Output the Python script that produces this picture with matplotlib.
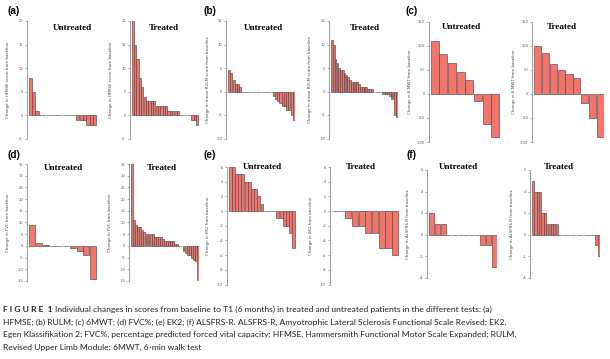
import matplotlib.pyplot as plt
import numpy as np

plt.rcParams['axes.unicode_minus'] = False

# ---------------------------------------------------------------------------
# data: individual changes from baseline, sorted (waterfall)
# ---------------------------------------------------------------------------
hfmse_untreated = [8, 5, 1, 0, 0, 0, 0, 0, 0, 0, 0, 0, 0, 0, -1, -1, -1, -2, -2, -2]
hfmse_treated = [20, 15, 12, 8, 6, 4, 3, 3, 3, 3, 2, 2, 2, 2, 2, 1, 1, 1, 1, 1,
                 0, 0, 0, 0, 0, -1, -1, -2]

rulm_untreated = [4.5, 4, 2.5, 1.5, 1.5, 1, 0, 0, 0, 0, 0, 0, 0, 0, 0, 0, 0, 0, 0, 0,
                  -1, -1.5, -2, -2.5, -3, -3, -4, -4, -5, -6]
rulm_treated = [11, 10, 7, 6, 5, 4.5, 4.5, 4, 3.5, 3, 2.5, 2, 2, 2, 2, 1.5, 1, 1, 1, 1,
                0.5, 0.5, 0.5, 0, 0, 0, 0, 0, -0.5, -0.5, -0.5, -0.5, -1, -1.5,
                -1.5, -5, -5.5]

mwt_untreated = [110, 83, 64, 45, 28, -15, -62, -89]
mwt_treated = [100, 84, 62, 49, 41, 32, -19, -50, -89]

fvc_untreated = [9, 1.1, 0.4, 0, 0, 0, -1, -2, -4, -14]
fvc_treated = [35, 11, 9, 8, 8, 7, 6, 5, 5, 5, 5, 4, 4, 4, 4, 3, 2, 2, 2, 2, 2, 1, 1,
               0, 0, -2, -3, -4, -4, -5, -6, -6.5, -16]

ek2_untreated = [6, 6, 5, 5, 5, 4, 4, 3, 3, 2, 1, 0, 0, 0, 0, -1, -1, -2, -2, -3, -5]
ek2_treated = [0, 0, -1, -2, -2, -3, -3, -5, -5, -6]

alsfrs_untreated = [2, 1, 1, 0, 0, 0, 0, 0, 0, -1, -1, -3]
alsfrs_treated = [5, 4, 4, 4, 2, 2, 1, 1, 1, 1, 1, 0, 0, 0, 0, 0, 0, 0, 0, 0, 0,
                  0, 0, 0, 0, 0, 0, -1, -2]

panel_tags = ['(a)', '(b)', '(c)', '(d)', '(e)', '(f)']
ylabels = ['Change in HFMSE score from baseline',
           'Change in mean RULM score from baseline',
           'Change in 6-MWT from baseline',
           'Change in FVC from baseline',
           'Change in EK2 from baseline',
           'Change in ALSFRS-R from baseline']
series = [(hfmse_untreated, hfmse_treated), (rulm_untreated, rulm_treated),
          (mwt_untreated, mwt_treated), (fvc_untreated, fvc_treated),
          (ek2_untreated, ek2_treated), (alsfrs_untreated, alsfrs_treated)]
yticks = [np.arange(-5, 21, 5), np.arange(-10, 16, 5), np.arange(-100, 151, 50),
          np.arange(-15, 36, 5), np.arange(-10, 7, 2), np.arange(-4, 7, 2)]
group_names = ['Untreated', 'Treated']

# ---------------------------------------------------------------------------
# layout (pixels in a 610x359 image)
# ---------------------------------------------------------------------------
W, H = 610, 359
# bar region left/right for (untreated, treated) of each panel
xspans = [((28.5, 96.5), (131.5, 198.5)), ((228, 295), (331, 398)),
          ((430.5, 499.5), (534, 604)), ((29, 96.5), (131, 199)),
          ((228.5, 295.5), (331.5, 398.5)), ((429, 497), (532, 600))]
# top (max tick) / bottom (min tick)
yspans = [(21, 139), (21, 138.5), (21.5, 142), (164, 281), (167, 284.5), (170, 277.5)]
# title centres
titles_xy = [((72, 28), (164, 28)), ((263, 28), (365, 28)), ((461, 27), (562, 27)),
             ((63, 168), (162, 168)), ((262, 167), (361, 167)), ((458, 167), (559, 167))]
tag_xy = [(7, 11), (203, 11), (405, 11), (7, 155), (203, 155), (406, 155)]

bar_face = '#F8736A'
bar_edge = '#4a4a4a'
axis_col = '#8c8c8c'

fig = plt.figure(figsize=(W / 100, H / 100), dpi=100)

for p in range(6):
    lo, hi = yticks[p][0], yticks[p][-1]
    top, bot = yspans[p]
    for g in range(2):
        x0, x1 = xspans[p][g]
        ax = fig.add_axes([x0 / W, 1 - bot / H, (x1 - x0) / W, (bot - top) / H])
        vals = series[p][g]
        n = len(vals)
        ax.bar(np.arange(n), vals, width=0.92, color=bar_face,
               edgecolor=bar_edge, linewidth=0.45)
        ax.set_xlim(-0.5, n - 0.5)
        ax.set_ylim(lo, hi)
        ax.patch.set_visible(False)
        for s in ['top', 'right', 'bottom']:
            ax.spines[s].set_visible(False)
        ax.spines['left'].set_position(('outward', 1.2))
        ax.spines['left'].set_bounds(lo, hi)
        ax.spines['left'].set_color(axis_col)
        ax.spines['left'].set_linewidth(0.6)
        ax.set_xticks([])
        ax.set_yticks(yticks[p])
        ax.set_yticklabels([str(v) for v in yticks[p]])
        ax.tick_params(axis='y', length=1.6, width=0.5, color=axis_col,
                       labelsize=2.6, labelcolor='#555555', pad=1.2)
        ax.set_ylabel(ylabels[p], fontsize=2.9, color='#444444')
        ax.yaxis.set_label_coords(-18.5 / (x1 - x0), 0.5)
        tx, ty = titles_xy[p][g]
        fig.text(tx / W, 1 - ty / H, group_names[g], family='Liberation Serif',
                 fontweight='bold', fontsize=6.6, ha='center', va='center')
    fig.text(tag_xy[p][0] / W, 1 - tag_xy[p][1] / H, panel_tags[p],
             family='Liberation Sans', fontweight='bold', fontsize=7.2,
             ha='left', va='center')

# caption
cap_font = 'Lato'
cap_col = '#231f20'
fig.text(3 / W, 1 - 309 / H, 'F I G U R E  1', family=cap_font, fontweight='bold',
         fontsize=6.1, color=cap_col, va='center', ha='left')
lines = [
    'Individual changes in scores from baseline to T1 (6 months) in treated and untreated patients in the different tests: (a)',
    'HFMSE; (b) RULM; (c) 6MWT; (d) FVC%; (e) EK2; (f) ALSFRS\u2010R. ALSFRS\u2010R, Amyotrophic Lateral Sclerosis Functional Scale Revised; EK2,',
    'Egen Klassifikation 2; FVC%, percentage predicted forced vital capacity; HFMSE, Hammersmith Functional Motor Scale Expanded; RULM,',
    'Revised Upper Limb Module; 6MWT, 6\u2010min walk test',
]
line_x = [55, 3, 3, 3]
line_y = [309, 322, 334.5, 347]
for txt, lx, ly in zip(lines, line_x, line_y):
    fig.text(lx / W, 1 - ly / H, txt, family=cap_font, fontsize=6.1,
             color=cap_col, va='center', ha='left')

fig.savefig('out.png', dpi=100)
